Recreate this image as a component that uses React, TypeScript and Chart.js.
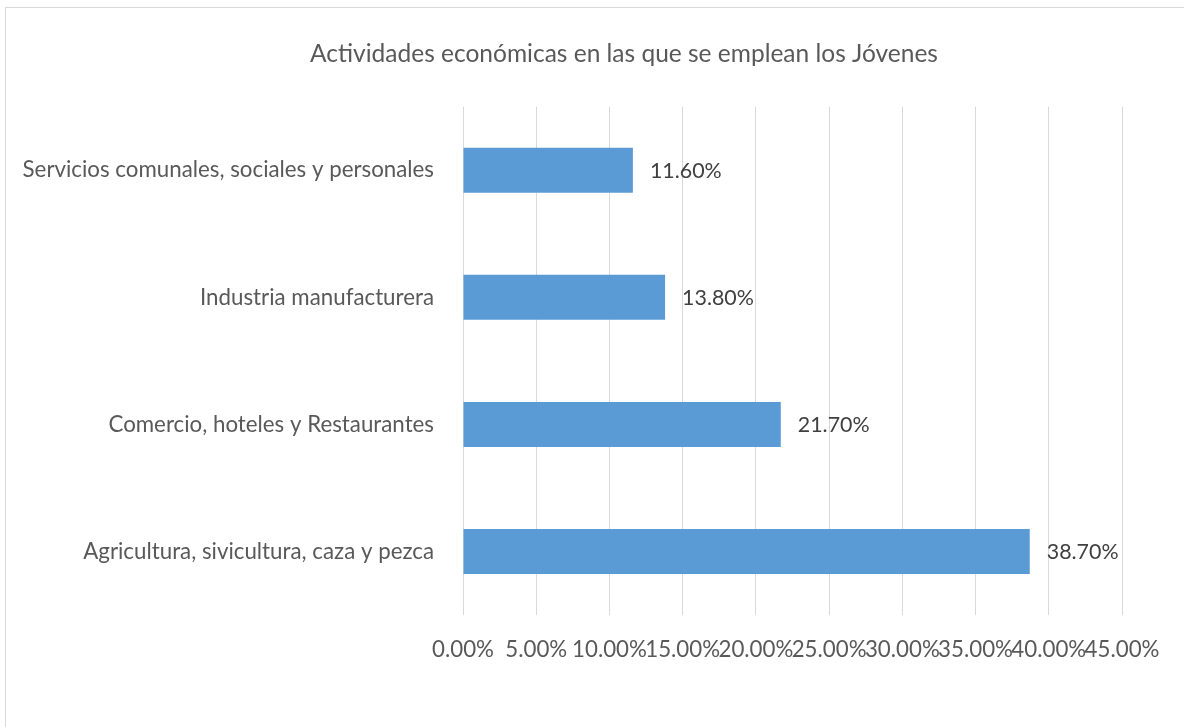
import React, { useEffect, useRef } from "react";
import { Chart, registerables } from "chart.js";

Chart.register(...registerables);

const categories: string[] = [
  "Servicios comunales, sociales y personales",
  "Industria manufacturera",
  "Comercio, hoteles y Restaurantes",
  "Agricultura, sivicultura, caza y pezca",
];
const values: number[] = [11.6, 13.8, 21.7, 38.7];
const axisMax = 45;
const axisStep = 5;
const titleText = "Actividades económicas en las que se emplean los Jóvenes";

const FONT = "Lato, 'Open Sans', sans-serif";
const W = 1184;
const H = 727;
const LABEL_SIZE = 22.3;
const VALUE_SIZE = 21.4;
const TITLE_SIZE = 24.5;

export default function App() {
  const ref = useRef<HTMLCanvasElement | null>(null);

  useEffect(() => {
    const canvas = ref.current;
    if (!canvas) return;

    const framePlugin = {
      id: "frame",
      beforeDraw(chart: any) {
        const ctx = chart.ctx;
        ctx.save();
        ctx.fillStyle = "#ffffff";
        ctx.fillRect(0, 0, chart.width, chart.height);
        ctx.strokeStyle = "#d9d9d9";
        ctx.lineWidth = 1;
        ctx.strokeRect(5.5, 7.5, 2000, 2000);
        ctx.font = `${TITLE_SIZE}px ${FONT}`;
        ctx.fillStyle = "#595959";
        ctx.textAlign = "center";
        ctx.textBaseline = "middle";
        ctx.fillText(titleText, 624, 54);
        ctx.restore();
      },
    };

    const labelPlugin = {
      id: "valueLabels",
      afterDatasetsDraw(chart: any) {
        const ctx = chart.ctx;
        const meta = chart.getDatasetMeta(0);
        ctx.save();
        ctx.font = `${VALUE_SIZE}px ${FONT}`;
        ctx.fillStyle = "#404040";
        ctx.textAlign = "left";
        ctx.textBaseline = "middle";
        meta.data.forEach((bar: any, i: number) => {
          const v = chart.data.datasets[0].data[i] as number;
          ctx.fillText(v.toFixed(2) + "%", bar.x + 17, bar.y + 1);
        });
        ctx.restore();
      },
    };

    const chart = new Chart(canvas, {
      type: "bar",
      data: {
        labels: categories,
        datasets: [
          {
            data: values,
            backgroundColor: "#5b9bd5",
            borderWidth: 0,
            categoryPercentage: 1,
            barPercentage: 0.354,
          },
        ],
      },
      options: {
        indexAxis: "y",
        responsive: false,
        animation: false,
        layout: { padding: { left: 0, right: 62, top: 106.7, bottom: 0 } },
        plugins: {
          legend: { display: false },
          tooltip: { enabled: false },
          title: { display: false },
        },
        scales: {
          x: {
            min: 0,
            max: axisMax,
            border: { display: false },
            grid: { color: "#d9d9d9", lineWidth: 1, drawTicks: false },
            ticks: {
              stepSize: axisStep,
              autoSkip: false,
              maxRotation: 0,
              minRotation: 0,
              padding: 21,
              color: "#595959",
              font: { family: FONT, size: LABEL_SIZE },
              callback: (v: any) => Number(v).toFixed(2) + "%",
            },
            afterFit: (scale: any) => {
              scale.height = 112;
            },
          },
          y: {
            border: { display: false },
            grid: { display: false, drawTicks: false },
            ticks: {
              padding: 29,
              color: "#595959",
              font: { family: FONT, size: LABEL_SIZE },
            },
            afterFit: (scale: any) => {
              scale.width = 463;
            },
          },
        },
      },
      plugins: [framePlugin, labelPlugin],
    } as any);

    return () => chart.destroy();
  }, []);

  return (
    <div style={{ position: "fixed", left: 0, top: 0, width: W, height: H, background: "#fff" }}>
      <canvas ref={ref} width={W} height={H} style={{ display: "block", width: W, height: H }} />
    </div>
  );
}
